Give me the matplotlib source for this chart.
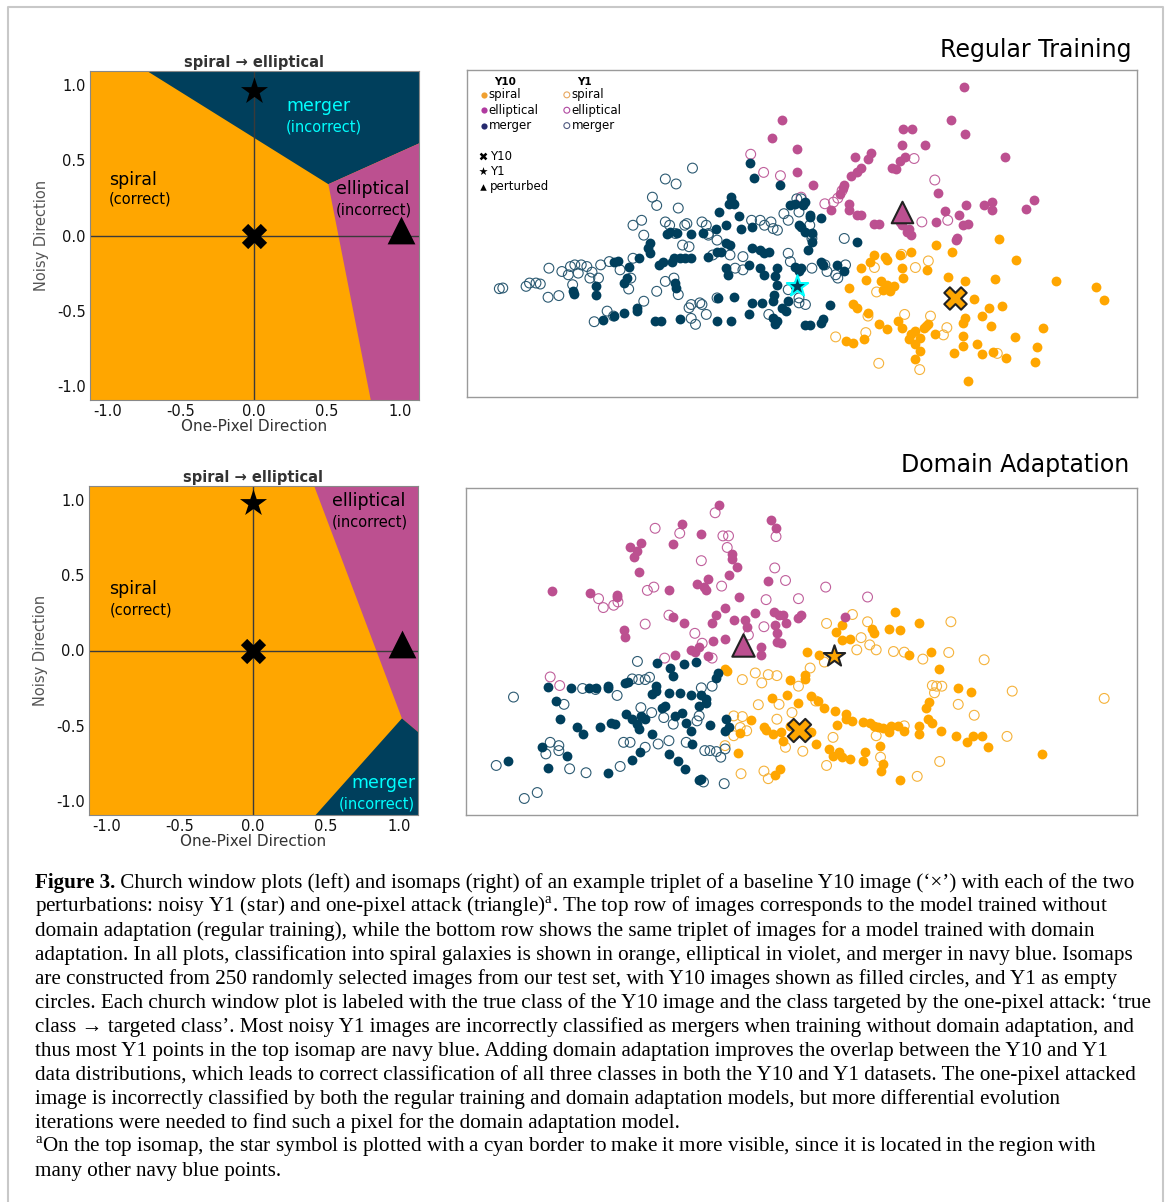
import numpy as np
import matplotlib.pyplot as plt

W, H = 1167, 1202

plt.rcParams['axes.unicode_minus'] = False
plt.rcParams['mathtext.fontset'] = 'custom'
plt.rcParams['mathtext.rm'] = 'Liberation Serif'
plt.rcParams['mathtext.bf'] = 'Liberation Serif:bold'

SPIRAL = '#ffa600'
ELLIP = '#bc5090'
MERGER = '#003f5c'

# church window decision regions (one-pixel direction, noisy direction)
cw_lim_x = (-1.12, 1.13)
cw_lim_y = (-1.09, 1.09)
cw_ticks = [-1.0, -0.5, 0.0, 0.5, 1.0]
cw_top_merger = [(-0.73, 1.09), (0.51, 0.34), (1.13, 0.61), (1.13, 1.09)]
cw_top_ellip = [(0.51, 0.34), (1.13, 0.61), (1.13, -1.09), (0.80, -1.09)]
cw_bot_ellip = [(0.42, 1.09), (1.02, -0.45), (1.13, -0.54), (1.13, 1.09)]
cw_bot_merger = [(1.02, -0.45), (1.13, -0.54), (1.13, -1.09), (0.43, -1.09)]
# triplet positions: Y10 baseline, Y1 noisy, one-pixel perturbed
cw_top_y10, cw_top_y1, cw_top_pert = (0.0, 0.0), (0.0, 0.96), (1.01, 0.035)
cw_bot_y10, cw_bot_y1, cw_bot_pert = (0.0, 0.0), (0.0, 0.975), (1.02, 0.04)

# isomap embeddings, regular training (y grows downward)
top_y10_spiral = [(1087,530),(1125,550),(1233,512),(1273,575),(1365,640),(1460,657),(1478,697),
    (1030,550),(1005,560),(970,565),(975,575),(945,560),(935,580),(1010,600),(1012,630),(1068,605),
    (915,600),(925,635),(960,640),(975,650),(990,655),(965,665),(980,670),(885,660),(1115,627),
    (1155,640),(1225,632),(1175,692),(1240,713),(1195,745),(1210,722),(1215,775),(1270,808),
    (1335,782),(1322,840),(1318,883),(1250,872),(1220,855),(1195,860),(1183,830),(1150,835),
    (1150,805),(1150,765),(1155,750),(1130,857),(1163,942),(1085,798),(1060,780),(1040,790),
    (1030,800),(1050,810),(1040,830),(1050,850),(1040,875),(1025,815),(1010,780),(1000,760),
    (895,708),(905,720),(930,735),(955,770),(975,785),(880,820),(895,828),(920,815),(1065,775),(1070,770)]
top_y1_spiral = [(1008,558),(1070,578),(1040,598),(945,598),(950,672),(930,745),(1015,740),
    (1075,745),(925,795),(855,808),(1105,802),(1113,780),(1230,858),(955,888),(1050,907)]
top_y10_ellip = [(1152,50),(730,152),(1123,150),(1155,195),(707,207),(1012,180),(1032,178),
    (765,240),(1010,228),(1062,228),(1248,262),(938,250),(930,270),(900,263),(1015,262),(1005,275),
    (985,298),(995,300),(915,298),(905,310),(890,322),(875,348),(872,358),(765,308),(803,347),
    (1093,373),(865,375),(885,405),(885,425),(845,423),(905,440),(915,440),(945,465),(955,465),
    (1025,480),(1030,500),(1005,460),(1087,460),(1108,428),(1140,440),(1137,510),(1135,515),
    (1157,410),(1200,410),(1218,400),(1218,425),(1297,420),(1315,393),(1150,470),(1163,465),
    (1010,470),(1020,490)]
top_y1_ellip = [(658,255),(688,310),(727,320),(1037,268),(1085,333),(870,365),(860,388),(850,400),
    (830,405),(775,385),(1055,460),(1115,455)]
top_y10_merger = [(657,283),(665,327),(725,347),(612,385),(615,400),(607,405),(620,405),(585,430),
    (632,443),(600,470),(577,480),(548,495),(520,497),(487,495),(470,490),(465,497),(635,480),
    (660,475),(600,525),(610,530),(590,550),(580,552),(560,565),(520,568),(505,568),(495,570),
    (480,570),(475,580),(455,582),(445,590),(425,555),(420,540),(425,525),(400,570),(375,597),
    (350,577),(340,582),(370,630),(365,645),(300,653),(300,680),(248,677),(247,670),(483,645),
    (485,660),(600,600),(605,622),(660,540),(680,545),(690,555),(700,550),(655,590),(680,600),
    (690,620),(720,600),(715,625),(720,650),(760,595),(770,610),(775,600),(760,655),(713,680),
    (710,700),(730,720),(740,730),(745,700),(660,705),(685,705),(655,740),(583,690),(620,688),
    (580,760),(612,760),(495,755),(450,760),(435,760),(395,720),(395,730),(365,735),(340,745),
    (315,757),(720,760),(710,750),(715,770),(785,773),(795,773),(825,755),(820,765),(843,712),
    (820,580),(825,590),(858,590),(875,610),(790,545),(800,520),(785,490),(820,447),(795,440),
    (775,475),(770,470),(750,410),(760,405),(780,410),(785,400),(795,445),(905,520),(800,495)]
top_y1_merger = [(75,662),(83,660),(137,655),(145,645),(160,645),(170,648),(190,600),(188,688),
    (213,683),(220,610),(235,620),(240,595),(250,590),(258,615),(265,590),(278,595),(285,630),
    (305,630),(310,590),(330,580),(355,605),(375,663),(385,570),(385,470),(405,455),(410,500),
    (430,385),(440,410),(460,330),(485,345),(523,297),(490,418),(460,460),(470,470),(483,495),
    (505,470),(510,465),(500,530),(515,535),(545,460),(555,470),(560,500),(580,515),(570,560),
    (560,495),(610,560),(622,600),(640,565),(640,605),(660,455),(680,455),(690,470),(705,460),
    (710,480),(720,485),(735,435),(745,455),(765,390),(775,390),(770,430),(795,470),(800,500),
    (800,510),(745,555),(750,580),(800,600),(830,590),(835,610),(855,620),(860,630),(878,590),
    (875,510),(745,665),(770,690),(770,705),(785,710),(700,740),(520,710),(515,720),(540,705),
    (545,710),(520,752),(530,770),(555,740),(580,690),(490,680),(460,640),(480,630),(440,670),
    (410,700),(380,630),(325,730),(295,762),(340,745),(290,612),(245,650)]
top_mark_y10, top_mark_y1, top_mark_pert = (1133, 690), (765, 655), (1010, 430)

# isomap embeddings, domain adaptation
bot_y10_spiral = [(993,375),(1048,410),(980,428),(1005,430),(870,415),(858,437),(870,460),(890,458),
    (940,428),(945,440),(790,498),(818,507),(1025,505),(1078,495),(1095,548),(1140,605),(1170,617),
    (605,555),(600,548),(750,580),(785,565),(785,578),(708,637),(743,628),(770,650),(800,630),
    (815,645),(830,665),(855,675),(860,718),(880,683),(880,700),(895,705),(920,708),(935,712),
    (945,722),(955,725),(965,728),(980,738),(985,720),(1000,720),(1015,735),(1050,720),(1050,745),
    (1065,665),(1073,648),(1070,700),(1080,710),(1100,735),(1135,750),(1160,770),(1175,750),
    (1195,752),(1210,785),(1335,805),(635,743),(660,703),(690,725),(695,733),(710,745),(730,740),
    (800,738),(810,775),(840,790),(850,810),(870,815),(865,800),(890,820),(920,828),(925,800),
    (958,780),(965,835),(960,858),(1005,883),(728,850),(715,870),(630,802),(750,720),(735,765)]
bot_y1_spiral = [(895,383),(835,410),(930,405),(1123,405),(915,453),(935,475),(950,490),(905,490),
    (990,495),(1015,497),(1058,518),(1118,498),(1200,520),(830,527),(797,545),(700,565),(720,568),
    (670,560),(640,580),(685,590),(770,600),(755,680),(725,655),(677,656),(640,692),(620,690),
    (720,700),(635,725),(650,735),(810,645),(1080,598),(1090,600),(1102,600),(1085,620),(1140,655),
    (1177,688),(1265,615),(1478,637),(1253,752),(1097,828),(1045,873),(960,815),(835,840),(690,857),
    (637,865),(700,880),(780,797),(740,785),(850,755),(950,750),(1015,720),(620,750),(600,780)]
bot_y10_ellip = [(587,52),(707,98),(718,122),(500,110),(545,140),(405,165),(480,170),(380,180),
    (395,190),(390,210),(400,255),(615,200),(617,215),(628,240),(610,262),(560,275),(535,292),
    (552,300),(555,310),(470,308),(350,325),(350,330),(287,317),(200,313),(700,283),(632,330),
    (600,362),(670,377),(713,375),(725,385),(735,385),(775,385),(768,395),(878,390),(740,410),
    (715,415),(620,400),(645,400),(650,420),(580,385),(570,410),(505,410),(480,390),(365,430),
    (368,450),(573,463),(600,458),(540,480),(520,490),(485,505),(683,480),(683,505),(720,440),
    (720,465),(730,470),(530,495),(560,510)]
bot_y1_ellip = [(577,75),(438,122),(495,137),(595,145),(608,145),(718,147),(605,180),(545,220),
    (715,242),(740,280),(833,300),(930,330),(435,300),(420,310),(592,297),(307,335),(318,362),
    (342,355),(352,345),(695,338),(770,335),(415,412),(470,385),(530,440),(547,470),(570,515),
    (460,515),(654,445),(690,420),(195,572),(217,598)]
bot_y10_merger = [(442,530),(472,545),(480,568),(505,532),(532,527),(583,560),(580,575),(190,603),
    (243,605),(285,607),(300,607),(330,600),(330,607),(368,590),(375,588),(440,598),(440,615),
    (470,620),(495,620),(430,625),(520,627),(545,628),(555,640),(208,645),(217,698),(258,725),
    (270,745),(310,725),(335,710),(345,715),(370,685),(385,700),(395,715),(400,730),(405,690),
    (415,700),(430,745),(455,665),(460,660),(485,690),(500,680),(510,710),(520,735),(565,718),
    (555,650),(540,660),(603,700),(608,725),(523,775),(402,800),(385,822),(470,805),(490,825),
    (508,852),(545,880),(540,885),(330,862),(233,810),(175,785),(190,848),(97,825),(600,735)]
bot_y1_merger = [(397,525),(385,578),(400,580),(415,580),(425,573),(270,607),(300,610),(350,628),
    (227,655),(405,665),(430,680),(458,695),(480,715),(535,705),(540,690),(545,605),(570,600),
    (110,633),(195,770),(215,780),(185,805),(215,795),(240,850),(278,862),(357,843),(415,785),
    (380,770),(365,770),(445,775),(470,765),(510,770),(553,795),(565,795),(580,798),(550,890),
    (598,895),(135,940),(165,922),(70,840),(590,815),(600,790)]
bot_mark_y10, bot_mark_y1, bot_mark_pert = (772, 732), (852, 508), (642, 475)

caption_head = "Figure 3."
caption = [
    " Church window plots (left) and isomaps (right) of an example triplet of a baseline Y10 image (‘×’) with each of the two",
    r"perturbations: noisy Y1 (star) and one-pixel attack (triangle)$^{\mathrm{a}}$. The top row of images corresponds to the model trained without",
    "domain adaptation (regular training), while the bottom row shows the same triplet of images for a model trained with domain",
    "adaptation. In all plots, classification into spiral galaxies is shown in orange, elliptical in violet, and merger in navy blue. Isomaps",
    "are constructed from 250 randomly selected images from our test set, with Y10 images shown as filled circles, and Y1 as empty",
    "circles. Each church window plot is labeled with the true class of the Y10 image and the class targeted by the one-pixel attack: ‘true",
    "class → targeted class’. Most noisy Y1 images are incorrectly classified as mergers when training without domain adaptation, and",
    "thus most Y1 points in the top isomap are navy blue. Adding domain adaptation improves the overlap between the Y10 and Y1",
    "data distributions, which leads to correct classification of all three classes in both the Y10 and Y1 datasets. The one-pixel attacked",
    "image is incorrectly classified by both the regular training and domain adaptation models, but more differential evolution",
    "iterations were needed to find such a pixel for the domain adaptation model.",
    r"${}^{\mathrm{a}}$On the top isomap, the star symbol is plotted with a cyan border to make it more visible, since it is located in the region with",
    "many other navy blue points.",
]


def box(l, t, r, b):
    return [l / W, 1 - b / H, (r - l) / W, (b - t) / H]


def church_window(ax, regions, labels, y10, y1, pert):
    ax.set_facecolor(SPIRAL)
    for verts, color in regions:
        ax.fill(*zip(*verts), color=color, lw=0, zorder=1)
    ax.axhline(0, color='#3a3a3a', lw=1, zorder=2)
    ax.axvline(0, color='#3a3a3a', lw=1, zorder=2)
    for x, y, txt, size, color, ha in labels:
        ax.text(x, y, txt, fontsize=size, color=color, ha=ha, va='center', zorder=3)
    ax.scatter(*y10, marker='X', s=330, color='black', lw=0, zorder=4)
    ax.scatter(*y1, marker='*', s=420, color='black', lw=0, zorder=4)
    ax.scatter(*pert, marker='^', s=400, color='black', lw=0, zorder=4, clip_on=False)
    ax.set_xlim(*cw_lim_x)
    ax.set_ylim(*cw_lim_y)
    ax.set_xticks(cw_ticks)
    ax.set_yticks(cw_ticks)
    ax.set_xticklabels([f'{t:.1f}' for t in cw_ticks])
    ax.set_yticklabels([f'{t:.1f}' for t in cw_ticks])
    ax.tick_params(length=0, labelsize=10.5, pad=3, colors='#111111')
    ax.set_xlabel('One-Pixel Direction', fontsize=11, color='#333333', labelpad=0)
    ax.set_ylabel('Noisy Direction', fontsize=10.5, color='#555555', labelpad=6)
    ax.set_title('spiral → elliptical', fontsize=10.5, fontweight='bold', color='#333333', pad=3)
    for sp in ax.spines.values():
        sp.set_color('#888888')
        sp.set_linewidth(0.8)


def isomap(ax, groups):
    for pts, color in [(groups['y1s'], '#f5b23a'), (groups['y1e'], '#c0609c'), (groups['y1m'], '#2c5a72')]:
        p = np.array(pts)
        ax.scatter(p[:, 0], p[:, 1], s=50, facecolors='none', edgecolors=color, linewidths=0.8, zorder=2)
    for pts, color in [(groups['y10s'], SPIRAL), (groups['y10e'], ELLIP), (groups['y10m'], MERGER)]:
        p = np.array(pts)
        ax.scatter(p[:, 0], p[:, 1], s=50, color=color, lw=0, zorder=3)
    ax.set_xlim(0, 1554)
    ax.set_ylim(990, 0)
    ax.set_xticks([])
    ax.set_yticks([])
    for sp in ax.spines.values():
        sp.set_color('#9a9a9a')
        sp.set_linewidth(1.0)


fig = plt.figure(figsize=(W / 100, H / 100), dpi=100)

# page frame
frame = fig.add_axes([0, 0, 1, 1])
frame.set_xlim(0, W)
frame.set_ylim(H, 0)
frame.axis('off')
frame.plot([7.5, 7.5, 1163, 1163], [H + 5, 6.5, 6.5, H + 5], color='#c8c8c8', lw=1.5)

# regular training
ax1 = fig.add_axes(box(90, 71, 419, 400))
church_window(ax1, [(cw_top_merger, MERGER), (cw_top_ellip, ELLIP)],
              [(-0.99, 0.37, 'spiral', 12.5, 'black', 'left'),
               (-0.99, 0.24, '(correct)', 10.5, 'black', 'left'),
               (0.22, 0.86, 'merger', 12.5, 'cyan', 'left'),
               (0.22, 0.72, '(incorrect)', 10.5, 'cyan', 'left'),
               (0.56, 0.31, 'elliptical', 12.5, 'black', 'left'),
               (0.56, 0.17, '(incorrect)', 10.5, 'black', 'left')],
              cw_top_y10, cw_top_y1, cw_top_pert)

ax2 = fig.add_axes(box(467, 70, 1137, 397))
isomap(ax2, dict(y1s=top_y1_spiral, y1e=top_y1_ellip, y1m=top_y1_merger,
                 y10s=top_y10_spiral, y10e=top_y10_ellip, y10m=top_y10_merger))
ax2.scatter(*top_mark_y10, marker='X', s=260, color=SPIRAL, edgecolors='#222222', linewidths=1.5, zorder=5)
ax2.scatter(*top_mark_y1, marker='*', s=260, color=MERGER, edgecolors='cyan', linewidths=1.5, zorder=5)
ax2.scatter(*top_mark_pert, marker='^', s=240, color=ELLIP, edgecolors='#222222', linewidths=1.5, zorder=5)

# legend drawn in axes fraction
ax2.text(0.057, 0.963, 'Y10', fontsize=7.5, fontweight='bold', ha='center', va='center', transform=ax2.transAxes)
ax2.text(0.175, 0.963, 'Y1', fontsize=7.5, fontweight='bold', ha='center', va='center', transform=ax2.transAxes)
leg_rows = [('spiral', '#f0a030', '#e8a860'), ('elliptical', '#b03aa0', '#b048a0'), ('merger', '#262a6e', '#505a80')]
for i, (name, fc, ec) in enumerate(leg_rows):
    y = 0.924 - i * 0.047
    ax2.scatter(0.025, y, s=20, color=fc, lw=0, transform=ax2.transAxes)
    ax2.text(0.032, y, name, fontsize=8.5, va='center', transform=ax2.transAxes)
    ax2.scatter(0.149, y, s=18, facecolors='none', edgecolors=ec, linewidths=0.8, transform=ax2.transAxes)
    ax2.text(0.156, y, name, fontsize=8.5, va='center', transform=ax2.transAxes)
for i, (mk, s, name) in enumerate([('x', 18, 'Y10'), ('*', 40, 'Y1'), ('^', 22, 'perturbed')]):
    y = 0.737 - i * 0.047
    lw = 1.8 if mk == 'x' else 0
    ax2.scatter(0.024, y, marker=mk, s=s, color='black', linewidths=lw, transform=ax2.transAxes)
    ax2.text(0.034, y, name, fontsize=8.5, va='center', transform=ax2.transAxes)

# domain adaptation
ax3 = fig.add_axes(box(89, 486, 418, 815))
church_window(ax3, [(cw_bot_ellip, ELLIP), (cw_bot_merger, MERGER)],
              [(-0.98, 0.41, 'spiral', 12.5, 'black', 'left'),
               (-0.98, 0.27, '(correct)', 10.5, 'black', 'left'),
               (0.54, 0.99, 'elliptical', 12.5, 'black', 'left'),
               (0.54, 0.85, '(incorrect)', 10.5, 'black', 'left'),
               (1.11, -0.88, 'merger', 12.5, 'cyan', 'right'),
               (1.11, -1.02, '(incorrect)', 10.5, 'cyan', 'right')],
              cw_bot_y10, cw_bot_y1, cw_bot_pert)

ax4 = fig.add_axes(box(466, 488, 1137, 815))
isomap(ax4, dict(y1s=bot_y1_spiral, y1e=bot_y1_ellip, y1m=bot_y1_merger,
                 y10s=bot_y10_spiral, y10e=bot_y10_ellip, y10m=bot_y10_merger))
ax4.scatter(*bot_mark_y10, marker='X', s=280, color=SPIRAL, edgecolors='#222222', linewidths=1.5, zorder=5)
ax4.scatter(*bot_mark_y1, marker='*', s=260, color=SPIRAL, edgecolors='#222222', linewidths=1.5, zorder=5)
ax4.scatter(*bot_mark_pert, marker='^', s=260, color=ELLIP, edgecolors='#222222', linewidths=1.5, zorder=5)

fig.text(1131 / W, 1 - 50 / H, 'Regular Training', fontsize=17, ha='right', va='center')
fig.text(1129 / W, 1 - 465 / H, 'Domain Adaptation', fontsize=17, ha='right', va='center')

# caption
serif = ['Liberation Serif', 'DejaVu Serif']
head = frame.text(35, 888, caption_head, fontsize=15.2, family=serif, fontweight='bold',
                  ha='left', va='baseline')
frame.annotate(caption[0], xy=(1, 0), xycoords=head, fontsize=15.2, family=serif,
               ha='left', va='bottom')
for i, line in enumerate(caption[1:], start=1):
    frame.text(35, 888 + 24 * i, line, fontsize=15.2, family=serif, ha='left', va='baseline')

fig.savefig('out.png', dpi=100)
